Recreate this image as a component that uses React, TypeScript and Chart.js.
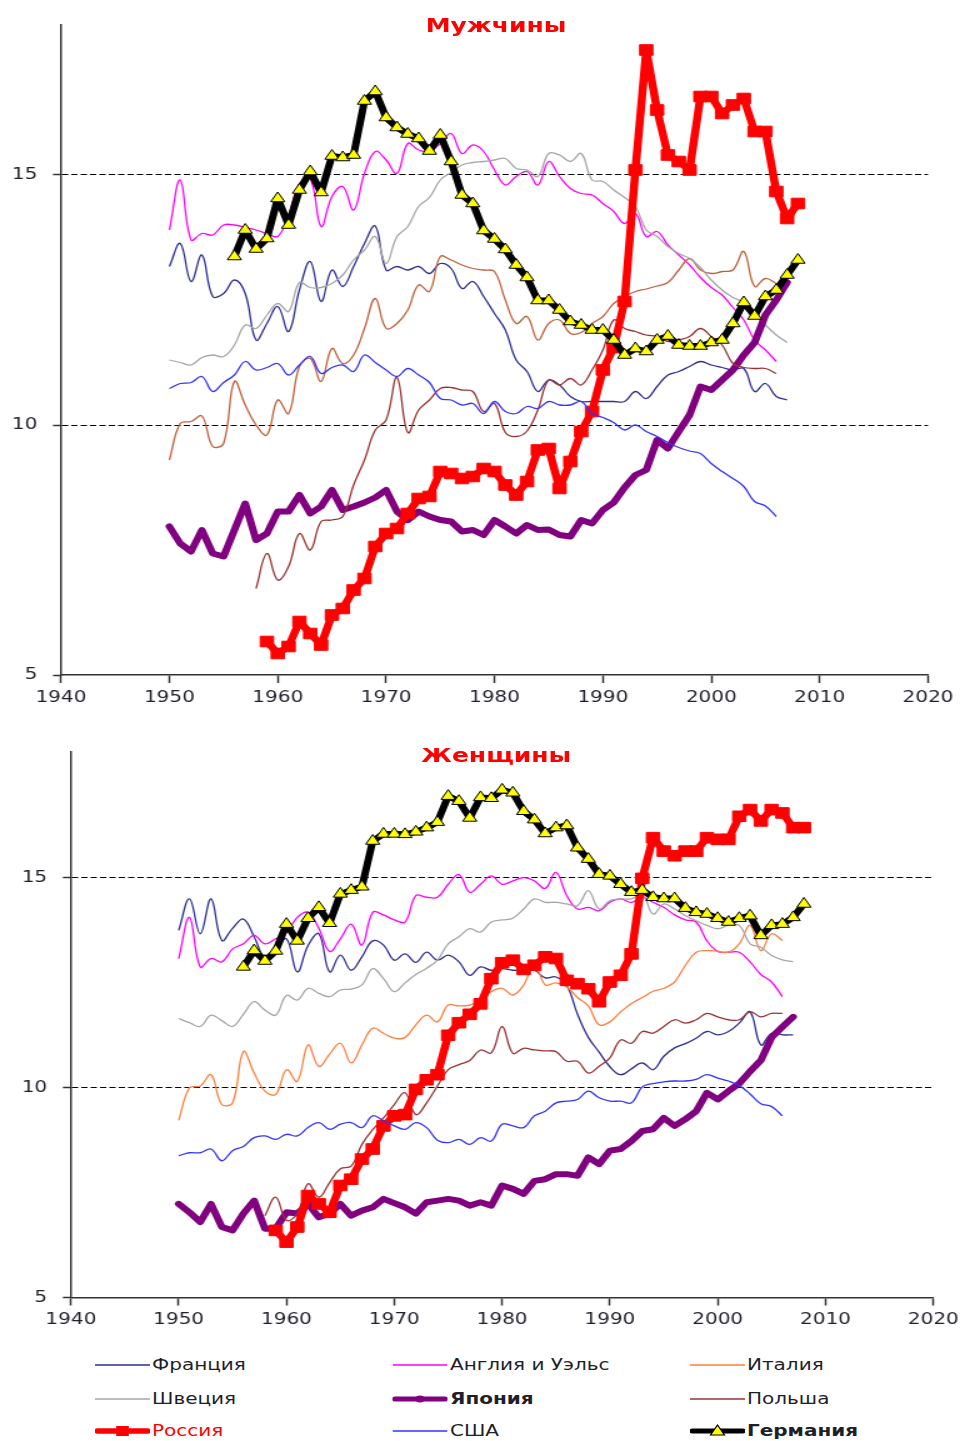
import React, { useEffect, useRef } from "react";
import { Chart, registerables } from "chart.js";

Chart.register(...registerables);

const FONT = "'DejaVu Sans', Verdana, sans-serif";

// ---------- axis ticks ----------
const xTicks = [1940, 1950, 1960, 1970, 1980, 1990, 2000, 2010, 2020];
const yTicks = [5, 10, 15];

// ---------- labels ----------
const titleMen = "Мужчины";
const titleWomen = "Женщины";
const seriesLabels = [
  "Франция",
  "Англия и Уэльс",
  "Италия",
  "Швеция",
  "Япония",
  "Польша",
  "Россия",
  "США",
  "Германия",
];

// ---------- start years ----------
const start1950 = 1950;
const start1956 = 1956;
const start1958 = 1958;
const start1959 = 1959;

// ---------- MEN ----------
const menFrance = [
  13.17, 13.63, 12.87, 13.4, 12.57, 12.63, 12.9, 12.63, 11.7, 12.03,
  12.37, 11.87, 12.7, 13.27, 12.47, 13.1, 12.77, 13.17, 13.63, 13.98,
  13.1, 13.17, 13.1, 13.17, 13.03, 13.23, 13.13, 12.73, 12.87, 12.57,
  12.23, 11.9, 11.3, 11.07, 10.67, 10.9, 10.8, 10.57, 10.47, 10.47,
  10.47, 10.47, 10.47, 10.67, 10.53, 10.77, 11.0, 11.07, 11.17, 11.27,
  11.2, 11.15, 11.1, 11.13, 10.67, 10.83, 10.57, 10.5,
];
const menEngland = [
  13.9, 14.9, 13.7, 13.83, 13.8, 14.0, 14.0, 13.95, 13.9, 13.83,
  13.77, 14.2, 14.83, 14.93, 13.97, 14.57, 14.77, 14.3, 15.03, 15.47,
  15.3, 15.03, 15.63, 15.5, 15.47, 15.63, 15.83, 15.43, 15.6, 15.47,
  15.1, 14.8, 14.97, 15.07, 14.8, 15.27, 14.97, 14.73, 14.63, 14.6,
  14.43, 14.27, 14.03, 14.23, 13.77, 13.87, 13.6, 13.4, 13.2, 12.95,
  12.75, 12.6, 12.35, 12.1, 11.7, 11.5, 11.27,
];
const menItaly = [
  9.3, 10.03, 10.07, 10.18, 9.57, 9.63, 10.87, 10.4, 10.0, 9.8,
  10.5, 10.23, 11.17, 11.33, 10.87, 11.53, 11.23, 11.4, 11.93, 12.53,
  11.93, 12.03, 12.3, 12.8, 12.67, 13.37, 13.3, 13.2, 13.13, 13.1,
  13.07, 12.5, 12.03, 12.17, 11.7, 12.03, 12.1, 11.83, 11.85, 12.03,
  12.17, 12.43, 12.57, 12.67, 12.72, 12.78, 12.85, 13.1, 13.33, 13.1,
  13.03, 13.07, 13.1, 13.47, 12.77, 12.93, 12.83,
];
const menSweden = [
  11.3, 11.25, 11.2, 11.35, 11.4, 11.37, 11.6, 12.0, 11.93, 12.2,
  12.43, 12.27, 12.85, 12.75, 12.75, 12.83, 13.0, 13.3, 13.5, 13.77,
  13.23, 13.77, 13.97, 14.37, 14.55, 14.9, 15.05, 15.2, 15.25, 15.27,
  15.3, 15.33, 15.13, 15.1, 14.97, 15.43, 15.4, 15.27, 15.43, 14.9,
  14.87, 14.7, 14.55, 14.37, 13.9, 13.77, 13.57, 13.43, 13.33, 13.15,
  12.9, 12.7, 12.55, 12.45, 12.2, 12.0, 11.8, 11.65,
];
const menJapan = [
  7.97, 7.63, 7.47, 7.9, 7.43, 7.37, 7.9, 8.43, 7.7, 7.83,
  8.27, 8.27, 8.6, 8.23, 8.37, 8.7, 8.3, 8.37, 8.45, 8.55,
  8.7, 8.27, 8.1, 8.27, 8.17, 8.1, 8.07, 7.87, 7.9, 7.8,
  8.1, 7.97, 7.83, 8.0, 7.9, 7.91, 7.8, 7.77, 8.1, 8.03,
  8.3, 8.45, 8.75, 9.0, 9.1, 9.7, 9.53, 9.87, 10.2, 10.77,
  10.7, 10.9, 11.1, 11.4, 11.65, 12.2, 12.5, 12.85,
];
const menPoland = [
  6.73, 7.43, 6.9, 7.17, 7.83, 7.5, 8.07, 8.1, 8.17, 8.8,
  9.3, 9.9, 10.1, 10.95, 9.85, 10.3, 10.5, 10.73, 10.75, 10.7,
  10.67, 10.27, 10.43, 9.85, 9.77, 9.88, 10.3, 10.9, 10.8, 10.93,
  10.8, 11.1, 11.5, 12.1, 11.93, 11.87, 11.8, 11.77, 11.67, 11.7,
  11.77, 11.93, 11.77, 11.6, 11.23, 11.15, 11.13, 11.13, 11.03,
];
const menRussia = [
  5.67, 5.43, 5.57, 6.07, 5.83, 5.6, 6.2, 6.33, 6.7, 6.93,
  7.57, 7.83, 7.93, 8.23, 8.53, 8.57, 9.07, 9.03, 8.93, 8.97,
  9.13, 9.07, 8.8, 8.6, 8.87, 9.5, 9.53, 8.73, 9.27, 9.87,
  10.27, 11.1, 11.55, 12.47, 15.1, 17.5, 16.3, 15.4, 15.27, 15.1,
  16.57, 16.57, 16.23, 16.4, 16.53, 15.87, 15.87, 14.67, 14.13, 14.43,
];
const menUSA = [
  10.73, 10.83, 10.85, 10.97, 10.67, 10.85, 11.0, 11.27, 11.1, 11.15,
  11.23, 11.0, 11.2, 11.37, 11.03, 11.15, 11.2, 11.07, 11.4, 11.25,
  11.1, 10.97, 11.13, 11.0, 10.85, 10.53, 10.5, 10.4, 10.43, 10.23,
  10.47, 10.27, 10.23, 10.37, 10.33, 10.47, 10.4, 10.4, 10.47, 10.23,
  10.15, 10.05, 9.9, 10.0, 9.87, 9.77, 9.65, 9.55, 9.48, 9.43,
  9.23, 9.07, 8.93, 8.77, 8.47, 8.38, 8.17,
];
const menGermany = [
  13.37, 13.9, 13.52, 13.73, 14.53, 14.0, 14.7, 15.07, 14.65, 15.38,
  15.35, 15.4, 16.48, 16.67, 16.15, 15.95, 15.82, 15.73, 15.48, 15.8,
  15.27, 14.6, 14.43, 13.89, 13.72, 13.51, 13.2, 12.95, 12.49, 12.49,
  12.3, 12.07, 12.0, 11.9, 11.9, 11.7, 11.4, 11.53, 11.47, 11.7,
  11.78, 11.6, 11.58, 11.58, 11.65, 11.7, 12.03, 12.45, 12.18, 12.57,
  12.7, 13.0, 13.3,
];

// ---------- WOMEN ----------
const womFrance = [
  13.75, 14.5, 13.67, 14.5, 13.51, 13.8, 14.02, 13.6, 13.1, 13.3,
  13.55, 12.76, 13.39, 13.67, 12.76, 13.16, 12.8, 13.12, 13.5, 13.4,
  13.04, 13.19, 12.99, 13.23, 13.04, 13.16, 13.0, 12.68, 12.88, 12.8,
  12.84, 12.8, 12.8, 12.8, 12.62, 12.64, 12.44, 11.75, 11.2, 10.85,
  10.5, 10.31, 10.45, 10.59, 10.43, 10.75, 10.95, 11.05, 11.18, 11.34,
  11.26, 11.34, 11.54, 11.81, 11.02, 11.3, 11.26, 11.26,
];
const womEngland = [
  13.08, 14.06, 12.88, 13.08, 13.0, 13.31, 13.43, 13.63, 13.43, 13.55,
  13.7, 14.06, 14.18, 13.8, 13.25, 13.55, 13.9, 13.4, 14.18, 14.12,
  14.0, 13.95, 14.58, 14.54, 14.54, 14.85, 15.08, 14.66, 14.85, 15.05,
  14.85, 14.93, 15.01, 14.93, 14.75, 15.13, 14.58, 14.26, 14.3, 14.22,
  14.42, 14.5, 14.42, 14.54, 14.42, 14.3, 14.12, 14.0, 13.95, 13.5,
  13.25, 13.23, 13.23, 13.0, 12.7, 12.52, 12.17,
];
const womItaly = [
  9.22, 10.0, 10.04, 10.31, 9.6, 9.64, 10.86, 10.35, 9.92, 9.84,
  10.43, 10.15, 11.02, 10.51, 10.8, 11.06, 10.59, 11.02, 11.42, 11.3,
  11.18, 11.2, 11.5, 11.73, 11.57, 11.97, 11.95, 11.97, 12.09, 12.29,
  12.37, 12.21, 12.45, 12.96, 12.45, 12.5, 12.4, 12.15, 11.95, 11.5,
  11.57, 11.81, 12.01, 12.15, 12.3, 12.37, 12.52, 12.92, 13.23, 13.27,
  13.25, 13.23, 13.43, 13.87, 13.27, 13.67, 13.51,
];
const womSweden = [
  11.65, 11.55, 11.46, 11.73, 11.6, 11.46, 11.75, 12.05, 11.85, 11.73,
  12.2, 12.09, 12.37, 12.25, 12.17, 12.33, 12.35, 12.45, 12.84, 12.6,
  12.29, 12.5, 12.7, 12.85, 13.04, 13.43, 13.6, 13.79, 13.71, 13.95,
  14.0, 14.04, 14.26, 14.5, 14.42, 14.42, 14.38, 14.34, 14.7, 14.26,
  14.46, 14.5, 14.5, 14.62, 14.14, 14.38, 14.26, 14.1, 13.98, 13.87,
  13.79, 13.87, 13.87, 13.43, 13.35, 13.15, 13.05, 13.0,
];
const womJapan = [
  7.23, 7.03, 6.8, 7.23, 6.68, 6.6, 7.0, 7.31, 6.64, 6.64,
  7.03, 7.0, 7.23, 6.91, 7.0, 7.23, 6.95, 7.07, 7.15, 7.35,
  7.25, 7.15, 7.0, 7.27, 7.31, 7.35, 7.31, 7.19, 7.27, 7.19,
  7.67, 7.59, 7.47, 7.78, 7.82, 7.94, 7.94, 7.9, 8.34, 8.18,
  8.5, 8.54, 8.73, 8.97, 9.01, 9.28, 9.09, 9.25, 9.44, 9.88,
  9.72, 9.92, 10.1, 10.39, 10.65, 11.2, 11.45, 11.69,
];
const womPoland = [
  6.95, 7.39, 6.84, 7.0, 7.71, 7.39, 7.74, 8.07, 8.13, 8.65,
  9.0, 9.28, 9.6, 9.88, 9.36, 9.64, 10.04, 10.43, 10.55, 10.65,
  10.9, 10.83, 11.46, 10.82, 10.94, 10.9, 10.88, 10.86, 10.63, 10.63,
  10.35, 10.51, 10.71, 11.14, 11.06, 11.34, 11.3, 11.46, 11.62, 11.54,
  11.62, 11.77, 11.69, 11.62, 11.62, 11.81, 11.69, 11.77, 11.77,
];
const womRussia = [
  6.6, 6.32, 6.68, 7.43, 7.23, 7.03, 7.67, 7.82, 8.3, 8.54,
  9.09, 9.33, 9.36, 9.96, 10.19, 10.31, 11.25, 11.55, 11.75, 12.0,
  12.6, 12.98, 13.04, 12.82, 12.92, 13.12, 13.08, 12.56, 12.48, 12.36,
  12.05, 12.52, 12.68, 13.19, 14.99, 15.96, 15.64, 15.53, 15.64, 15.64,
  15.96, 15.92, 15.92, 16.47, 16.63, 16.36, 16.63, 16.55, 16.2, 16.2,
];
const womUSA = [
  8.38, 8.45, 8.45, 8.54, 8.26, 8.5, 8.6, 8.81, 8.85, 8.77,
  8.89, 8.85, 9.05, 9.17, 9.01, 9.13, 9.17, 9.05, 9.33, 9.21,
  9.09, 9.01, 9.17, 9.05, 8.75, 8.69, 8.77, 8.65, 8.81, 8.73,
  9.13, 9.09, 9.05, 9.33, 9.44, 9.64, 9.68, 9.72, 9.92, 9.76,
  9.68, 9.68, 9.64, 10.02, 10.1, 10.14, 10.16, 10.16, 10.2, 10.31,
  10.23, 10.16, 10.05, 9.85, 9.62, 9.55, 9.33,
];
const womGermany = [
  12.88, 13.27, 13.02, 13.26, 13.9, 13.5, 14.04, 14.3, 13.92, 14.62,
  14.71, 14.79, 15.88, 16.05, 16.05, 16.04, 16.1, 16.2, 16.33, 16.95,
  16.83, 16.43, 16.92, 16.9, 17.1, 17.03, 16.59, 16.39, 16.06, 16.2,
  16.25, 15.72, 15.45, 15.09, 15.05, 14.85, 14.66, 14.71, 14.54, 14.51,
  14.51, 14.28, 14.18, 14.14, 14.04, 13.95, 14.04, 14.1, 13.63, 13.87,
  13.9, 14.06, 14.38,
];

// ---------- colours ----------
const COL = {
  france: "#2e2e93",
  england: "#ff00ff",
  italy: "#ff7f3f",
  italyMen: "#c0603a",
  sweden: "#a6a6a6",
  japan: "#800080",
  poland: "#993333",
  russia: "#ff0000",
  usa: "#3333ff",
  germany: "#000000",
};

type Kind = "thin" | "japan" | "russia" | "germany";
type SeriesDef = { label: string; start: number; values: number[]; color: string; kind: Kind };

const menSeries: SeriesDef[] = [
  { label: seriesLabels[0], start: start1950, values: menFrance, color: COL.france, kind: "thin" },
  { label: seriesLabels[1], start: start1950, values: menEngland, color: COL.england, kind: "thin" },
  { label: seriesLabels[2], start: start1950, values: menItaly, color: COL.italyMen, kind: "thin" },
  { label: seriesLabels[3], start: start1950, values: menSweden, color: COL.sweden, kind: "thin" },
  { label: seriesLabels[4], start: start1950, values: menJapan, color: COL.japan, kind: "japan" },
  { label: seriesLabels[5], start: start1958, values: menPoland, color: COL.poland, kind: "thin" },
  { label: seriesLabels[6], start: start1959, values: menRussia, color: COL.russia, kind: "russia" },
  { label: seriesLabels[7], start: start1950, values: menUSA, color: COL.usa, kind: "thin" },
  { label: seriesLabels[8], start: start1956, values: menGermany, color: COL.germany, kind: "germany" },
];
const womSeries: SeriesDef[] = [
  { label: seriesLabels[0], start: start1950, values: womFrance, color: COL.france, kind: "thin" },
  { label: seriesLabels[1], start: start1950, values: womEngland, color: COL.england, kind: "thin" },
  { label: seriesLabels[2], start: start1950, values: womItaly, color: COL.italy, kind: "thin" },
  { label: seriesLabels[3], start: start1950, values: womSweden, color: COL.sweden, kind: "thin" },
  { label: seriesLabels[4], start: start1950, values: womJapan, color: COL.japan, kind: "japan" },
  { label: seriesLabels[5], start: start1958, values: womPoland, color: COL.poland, kind: "thin" },
  { label: seriesLabels[6], start: start1959, values: womRussia, color: COL.russia, kind: "russia" },
  { label: seriesLabels[7], start: start1950, values: womUSA, color: COL.usa, kind: "thin" },
  { label: seriesLabels[8], start: start1956, values: womGermany, color: COL.germany, kind: "germany" },
];

function buildDatasets(list: SeriesDef[]) {
  const n = list.length;
  return list.map((s, idx) => {
    const base: any = {
      label: s.label,
      data: s.values.map((v, i) => ({ x: s.start + i, y: v })),
      borderColor: s.color,
      backgroundColor: s.color,
      fill: false,
      order: n - idx,
    };
    if (s.kind === "thin") {
      return { ...base, borderWidth: 1.3, pointRadius: 0, tension: 0.4 };
    }
    if (s.kind === "japan") {
      return { ...base, borderWidth: 6, pointRadius: 0, tension: 0, borderJoinStyle: "round", borderCapStyle: "round" };
    }
    if (s.kind === "russia") {
      return {
        ...base,
        borderWidth: 6.5,
        tension: 0,
        borderJoinStyle: "round",
        pointStyle: "rect",
        pointRadius: 7.5,
        pointBackgroundColor: COL.russia,
        pointBorderColor: COL.russia,
        pointBorderWidth: 1,
      };
    }
    return {
      ...base,
      borderWidth: 6,
      tension: 0,
      borderJoinStyle: "round",
      pointStyle: "triangle",
      pointRadius: 6.5,
      pointBackgroundColor: "#ffff00",
      pointBorderColor: "#000000",
      pointBorderWidth: 1,
    };
  });
}

type Area = { left: number; right: number; top: number; bottom: number; width: number; height: number };

function buildOptions(a: Area): any {
  return {
    responsive: true,
    maintainAspectRatio: false,
    animation: false,
    events: [],
    layout: { padding: { left: 0, right: a.width - a.right, top: a.top, bottom: 0 } },
    plugins: { legend: { display: false }, tooltip: { enabled: false }, title: { display: false } },
    scales: {
      x: {
        type: "linear",
        min: xTicks[0],
        max: xTicks[xTicks.length - 1],
        afterBuildTicks: (s: any) => {
          s.ticks = xTicks.map((v) => ({ value: v }));
        },
        afterFit: (s: any) => {
          s.height = a.height - a.bottom;
        },
        ticks: {
          callback: (v: any) => String(v),
          font: { family: FONT, size: 16 },
          color: "#1f1f2a",
          padding: 5,
          maxRotation: 0,
          autoSkip: false,
        },
        grid: { drawOnChartArea: false, drawTicks: true, tickLength: 8, tickColor: "#333", tickWidth: 1.5 },
        border: { display: true, color: "#333", width: 1.5 },
      },
      y: {
        type: "linear",
        min: 5,
        max: 18,
        afterBuildTicks: (s: any) => {
          s.ticks = yTicks.map((v) => ({ value: v }));
        },
        afterFit: (s: any) => {
          s.width = a.left;
        },
        ticks: {
          callback: (v: any) => String(v),
          font: { family: FONT, size: 16 },
          color: "#1f1f2a",
          padding: 12.5,
        },
        grid: {
          color: (c: any) => (c.tick && (c.tick.value === 10 || c.tick.value === 15) ? "#000" : "rgba(0,0,0,0)"),
          lineWidth: 1,
          drawTicks: true,
          tickLength: 6.4,
          tickColor: "#333",
          tickWidth: 1.5,
          tickBorderDash: [],
        },
        border: { display: true, color: "#333", width: 1.5, dash: [5, 2.5] },
      },
    },
  };
}

function Panel({ series, area, top }: { series: SeriesDef[]; area: Area; top: number }) {
  const ref = useRef<HTMLCanvasElement | null>(null);
  useEffect(() => {
    if (!ref.current) return;
    const chart = new Chart(ref.current, {
      type: "line",
      data: { datasets: buildDatasets(series) },
      options: buildOptions(area),
    } as any);
    return () => chart.destroy();
  }, []);
  return (
    <div style={{ position: "absolute", left: 0, top, width: area.width, height: area.height }}>
      <canvas ref={ref} />
    </div>
  );
}

const DESIGN_W = 772;
const topArea: Area = { left: 48.8, right: 742.4, top: 25, bottom: 675, width: DESIGN_W, height: 720 };
const bottomArea: Area = { left: 56.7, right: 750.5, top: 19, bottom: 567.5, width: DESIGN_W, height: 610 };

const legendCols = [76, 314.4, 552];
const legendRows = [1365, 1398.5, 1431];

function LegendSymbol({ kind, color }: { kind: Kind; color: string }) {
  const w = 44;
  const h = 16;
  if (kind === "thin") {
    return (
      <svg width={w} height={h} style={{ display: "block" }}>
        <line x1={0} y1={8} x2={w} y2={8} stroke={color} strokeWidth={1.5} />
      </svg>
    );
  }
  if (kind === "japan") {
    return (
      <svg width={w} height={h} style={{ display: "block" }}>
        <line x1={2} y1={8} x2={w - 2} y2={8} stroke={color} strokeWidth={5} strokeLinecap="round" />
        <ellipse cx={w / 2} cy={8} rx={4} ry={3.5} fill={color} />
      </svg>
    );
  }
  if (kind === "russia") {
    return (
      <svg width={w} height={h} style={{ display: "block" }}>
        <line x1={2} y1={8} x2={w - 2} y2={8} stroke={color} strokeWidth={5.5} strokeLinecap="round" />
        <rect x={w / 2 - 5} y={3} width={10} height={10} fill={color} />
      </svg>
    );
  }
  return (
    <svg width={w} height={h} style={{ display: "block" }}>
      <line x1={2} y1={8} x2={w - 2} y2={8} stroke="#000" strokeWidth={5} strokeLinecap="round" />
      <polygon points={`${w / 2},2 ${w / 2 + 5.6},12 ${w / 2 - 5.6},12`} fill="#ffff00" stroke="#000" strokeWidth={1} />
    </svg>
  );
}

export default function App() {
  const legend = womSeries.map((s, i) => ({
    label: s.label,
    kind: s.kind,
    color: s.color,
    col: i % 3,
    row: Math.floor(i / 3),
  }));
  return (
    <div
      style={{
        position: "absolute",
        left: 0,
        top: 0,
        width: DESIGN_W,
        height: 1440,
        transform: "scaleX(1.25)",
        transformOrigin: "0 0",
        fontFamily: FONT,
        background: "#ffffff",
        overflow: "hidden",
      }}
    >
      <Panel series={menSeries} area={topArea} top={0} />
      <Panel series={womSeries} area={bottomArea} top={730} />
      <div
        style={{
          position: "absolute",
          left: 296.8,
          width: 200,
          top: 13,
          lineHeight: "24px",
          fontSize: 20,
          fontWeight: "bold",
          color: "#ff0000",
          textAlign: "center",
        }}
      >
        {titleMen}
      </div>
      <div
        style={{
          position: "absolute",
          left: 297,
          width: 200,
          top: 743,
          lineHeight: "24px",
          fontSize: 20,
          fontWeight: "bold",
          color: "#ff0000",
          textAlign: "center",
        }}
      >
        {titleWomen}
      </div>
      {legend.map((it) => (
        <div
          key={it.label}
          style={{
            position: "absolute",
            left: legendCols[it.col],
            top: legendRows[it.row] - 10,
            height: 20,
            display: "flex",
            alignItems: "center",
            whiteSpace: "nowrap",
          }}
        >
          <LegendSymbol kind={it.kind} color={it.color} />
          <span
            style={{
              marginLeft: 1.6,
              fontSize: 16,
              lineHeight: "20px",
              fontWeight: it.kind === "japan" || it.kind === "germany" ? "bold" : "normal",
              color: it.kind === "russia" ? "#ff0000" : "#1f1f2a",
            }}
          >
            {it.label}
          </span>
        </div>
      ))}
    </div>
  );
}
